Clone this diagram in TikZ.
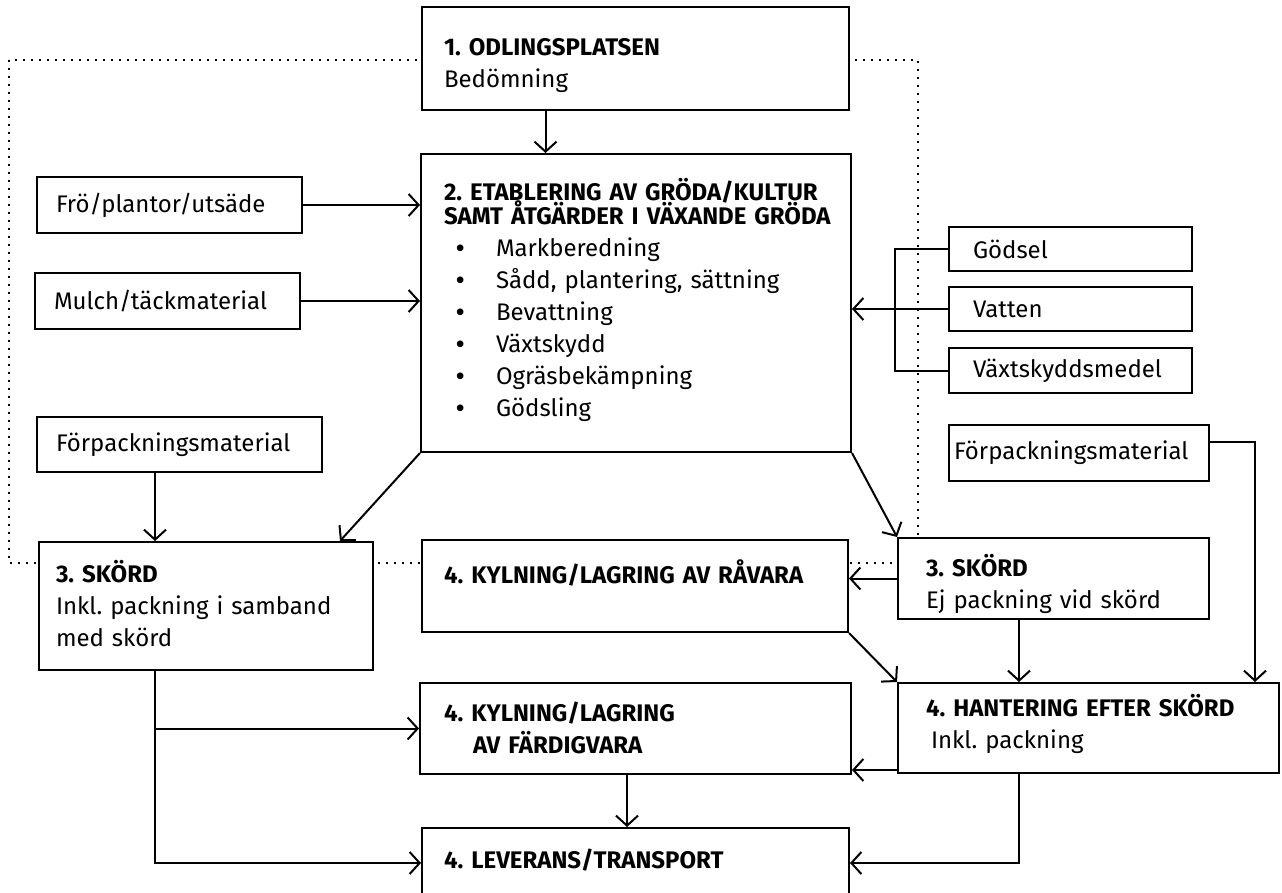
\documentclass[tikz,border=0pt]{standalone}
\usepackage{fontspec}
\setmainfont{Fira Sans}
\usetikzlibrary{arrows.meta,calc}
\tikzstyle{box} = [draw, fill=white, line width=2pt, align=left, inner ysep=0pt]
\tikzstyle{line} = [draw, line width=2pt, -{Straight Barb[length=10pt,width=22pt,line width=2pt]}]
\tikzstyle{plain} = [draw, line width=2pt]
\tikzset{drop/.style={text height=0pt, text depth=#1}}
\newcommand{\punkt}{\hspace*{12pt}\makebox[40pt][l]{\textbf{•}}}
\frenchspacing
\hyphenpenalty=10000
\exhyphenpenalty=10000

\begin{document}
\begin{tikzpicture}[x=1pt,y=-1pt,font=\fontsize{24}{32}\selectfont]

\useasboundingbox (0,0) rectangle (1282,893);
%\draw[help lines,step=50] (0,0) grid (1282,893);

% dotted frame round the field steps
\draw[line width=2pt, dash pattern=on 2pt off 6pt] (9,60) rectangle (918,563);

\node[box, drop=5pt, minimum width=427, minimum height=103, inner xsep=22, text width=383] (odl) at (635.5,58.5)
  {\textbf{1. ODLINGSPLATSEN}\\Bedömning};
\node[box, drop=204pt, minimum width=430, minimum height=298, inner xsep=23, text width=384] (etab) at (636,303)
  {\textbf{2.~ETABLERING~AV~GRÖDA/KULTUR}\\[-8pt]\mbox{\textbf{SAMT~ÅTGÄRDER~I~VÄXANDE~GRÖDA}}\\
   \punkt Markberedning\\\punkt Sådd, plantering, sättning\\\punkt Bevattning\\
   \punkt Växtskydd\\\punkt Ogräsbekämpning\\\punkt Gödsling};

\node[box, minimum width=265, minimum height=56, inner xsep=19, text width=227] (fro) at (169.5,205) {Frö/plantor/utsäde};
\node[box, minimum width=265, minimum height=56, inner xsep=19, text width=227] (mulch) at (167.5,301) {Mulch/täckmaterial};
\node[box, minimum width=285, minimum height=55, inner xsep=19, text width=247] (forpL) at (179.5,444.5) {Förpackningsmaterial};

\node[box, minimum width=243, minimum height=44, inner xsep=24, text width=195] (godsel) at (1070.5,249) {Gödsel};
\node[box, minimum width=243, minimum height=44, inner xsep=24, text width=195] (vatten) at (1070.5,309) {Vatten};
\node[box, minimum width=243, minimum height=45, inner xsep=24, text width=195] (vaxt) at (1070.5,370.5) {Växtskyddsmedel};
\node[box, minimum width=260, minimum height=56, inner xsep=5, text width=250] (forpR) at (1079,453) {Förpackningsmaterial};

\node[box, drop=48pt, minimum width=334, minimum height=128, inner xsep=17, text width=300] (skordL) at (206,606)
  {\textbf{3. SKÖRD}\\Inkl. packning i samband\\med skörd};
\node[box, drop=6pt, minimum width=426, minimum height=92, inner xsep=22, text width=382] (ravara) at (635,586)
  {\textbf{4. KYLNING/LAGRING AV RÅVARA}};
\node[box, drop=5pt, minimum width=311, minimum height=81, inner xsep=28, text width=255] (skordR) at (1053.5,578.5)
  {\textbf{3. SKÖRD}\\Ej packning vid skörd};

\node[box, drop=15pt, minimum width=431, minimum height=91, inner xsep=24, text width=383] (fardig) at (635.5,728.5)
  {\textbf{4. KYLNING/LAGRING}\\\hspace*{29pt}\textbf{AV FÄRDIGVARA}};
\node[box, drop=24pt, minimum width=381, minimum height=90, inner xsep=28, text width=325] (hant) at (1088.5,728)
  {\textbf{4.~HANTERING~EFTER~SKÖRD}\\\hspace*{5pt}Inkl. packning};
\node[box, text height=10pt, text depth=0pt, minimum width=427, minimum height=70, inner xsep=22, text width=383] (lev) at (635.5,863)
  {\textbf{4. LEVERANS/TRANSPORT}};

% inputs
\draw[line] ([xshift=-90pt]odl.south) -- ([xshift=-90pt]odl.south |- etab.north);
\draw[line] (fro.east) -- (fro.east -| etab.west);
\draw[line] (mulch.east) -- (mulch.east -| etab.west);
\draw[plain] (godsel.west) -- ++(-53,0) |- (vaxt.west);
\draw[line] (vatten.west) -- (vatten.west -| etab.east);
\draw[line] ([xshift=-24.5pt]forpL.south) -- ([xshift=-24.5pt]forpL.south |- skordL.north);
\draw[line] ([yshift=11pt]forpR.east) -| ([xshift=-25pt]hant.north east);

% harvest
\draw[line] (etab.south west) -- ([xshift=-34pt]skordL.north east);
\draw[line] (etab.south east) -- (skordR.north west);
\draw[line] (skordR.west) -- (skordR.west -| ravara.east);
\draw[line] ([xshift=-34.5pt]skordR.south) -- ([xshift=-34.5pt]skordR.south |- hant.north);
\draw[line] (ravara.south east) -- (hant.north west);

% storage and delivery
\draw[line] ([yshift=4pt]hant.south west) -- ([yshift=4pt]hant.south west -| fardig.east);
\draw[line] ([xshift=-69.5pt]hant.south) |- (lev.east);
\draw[line] ([xshift=-51pt]skordL.south) |- (lev.west);
\draw[line] ([xshift=-51pt]skordL.south |- fardig.west) -- (fardig.west);
\draw[line] ([xshift=-8.5pt]fardig.south) -- ([xshift=-8.5pt]fardig.south |- lev.north);

\end{tikzpicture}
\end{document}
